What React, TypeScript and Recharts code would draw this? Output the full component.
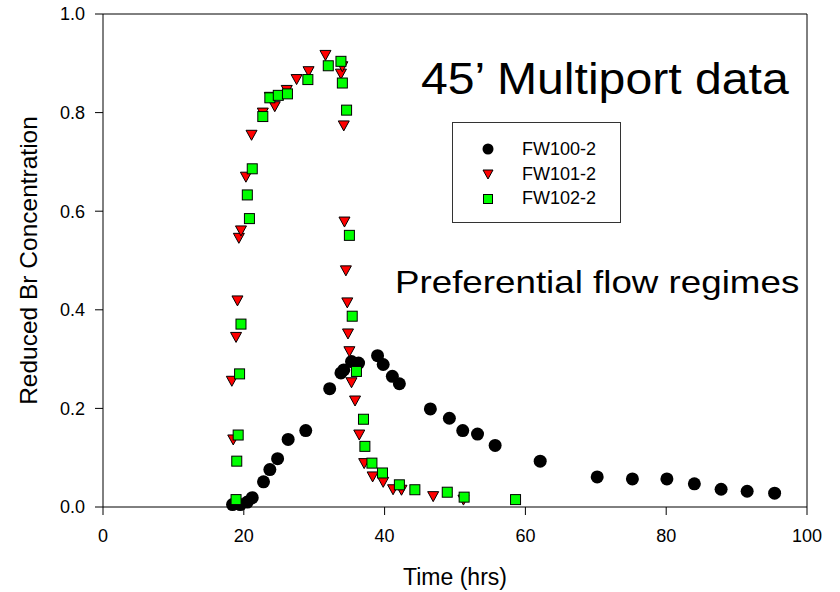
import { Label, ReferenceLine, Scatter, ScatterChart, XAxis, YAxis } from "recharts"

// sampling times (hrs) and reduced Br concentration for each well
const fw100Time = [18.4, 19.5, 20.5, 21.2, 22.8, 23.7, 24.8, 26.3, 28.8, 32.2, 33.8, 34.2, 35.3, 36.3, 39.0, 39.8, 41.1, 42.1, 46.5, 49.2, 51.1, 53.2, 55.7, 62.1, 70.2, 75.2, 80.1, 84.0, 87.8, 91.5, 95.4]
const fw100Conc = [0.005, 0.005, 0.01, 0.019, 0.051, 0.076, 0.098, 0.137, 0.155, 0.24, 0.272, 0.278, 0.295, 0.292, 0.307, 0.289, 0.265, 0.25, 0.199, 0.18, 0.155, 0.148, 0.125, 0.093, 0.061, 0.057, 0.057, 0.047, 0.036, 0.032, 0.028]

const fw101Time = [18.3, 18.5, 18.9, 19.1, 19.3, 19.6, 20.3, 21.1, 22.7, 23.7, 24.4, 26.1, 27.5, 29.2, 31.6, 33.8, 34.0, 34.2, 34.3, 34.5, 34.7, 34.8, 35.0, 35.3, 35.8, 36.4, 37.1, 38.3, 39.8, 41.2, 42.4, 46.9, 51.2]
const fw101Conc = [0.256, 0.137, 0.345, 0.419, 0.546, 0.561, 0.67, 0.755, 0.8, 0.832, 0.813, 0.846, 0.868, 0.884, 0.917, 0.879, 0.894, 0.774, 0.579, 0.48, 0.415, 0.352, 0.316, 0.253, 0.216, 0.147, 0.089, 0.062, 0.051, 0.036, 0.035, 0.022, 0.015]

const fw102Time = [18.9, 19.0, 19.2, 19.4, 19.6, 20.5, 20.8, 21.2, 22.7, 23.7, 24.9, 26.2, 29.1, 32.0, 33.8, 34.0, 34.6, 35.0, 35.4, 36.0, 37.0, 37.2, 38.2, 39.7, 42.1, 44.3, 48.9, 51.3, 58.6]
const fw102Conc = [0.015, 0.093, 0.146, 0.27, 0.371, 0.633, 0.585, 0.686, 0.792, 0.83, 0.835, 0.838, 0.867, 0.895, 0.904, 0.86, 0.805, 0.551, 0.387, 0.275, 0.178, 0.123, 0.089, 0.069, 0.045, 0.035, 0.03, 0.02, 0.015]

const xTicks = [0, 20, 40, 60, 80, 100]
const yTicks = [0, 0.2, 0.4, 0.6, 0.8, 1.0]
const seriesNames = ["FW100-2", "FW101-2", "FW102-2"]

const toPoints = (t: number[], c: number[]) => t.map((time, i) => ({ time, conc: c[i] }))

const font = "'Liberation Sans', Arial, sans-serif"

const Dot = (p: any) => <circle cx={p.cx} cy={p.cy} r={6.5} fill="#000" />
const Tri = (p: any) => (
  <polygon
    points={`${p.cx - 5.5},${p.cy - 4.5} ${p.cx + 5.5},${p.cy - 4.5} ${p.cx},${p.cy + 5.5}`}
    fill="#ff0000"
    stroke="#000"
    strokeWidth={1}
  />
)
const Sq = (p: any) => (
  <rect x={p.cx - 5} y={p.cy - 5} width={10} height={10} fill="#00ff00" stroke="#000" strokeWidth={1} />
)

// boxed key, placed inside the plot area
function LegendBox() {
  const icons = [
    <circle cx={6} cy={6} r={5.5} fill="#000" />,
    <polygon points="1,2 11,2 6,11" fill="#ff0000" stroke="#000" strokeWidth={1} />,
    <rect x={1.5} y={1.5} width={9} height={9} fill="#00ff00" stroke="#000" strokeWidth={1} />,
  ]
  return (
    <div
      style={{
        position: "absolute",
        left: 452,
        top: 122,
        width: 169,
        height: 101,
        boxSizing: "border-box",
        border: "1px solid #333",
        background: "#fff",
        paddingTop: 14,
        fontFamily: font,
        fontSize: 18,
      }}
    >
      {seriesNames.map((name, i) => (
        <div key={name} style={{ display: "flex", alignItems: "center", height: 24.7 }}>
          <svg width={12} height={12} style={{ marginLeft: 29, marginRight: 28 }}>
            {icons[i]}
          </svg>
          <span>{name}</span>
        </div>
      ))}
    </div>
  )
}

export default function App() {
  return (
    <div style={{ position: "absolute", left: 0, top: 0, width: 840, height: 592, background: "#fff" }}>
      <ScatterChart width={840} height={592} margin={{ top: 14, right: 33, bottom: 0, left: 0 }}>
        <XAxis
          type="number"
          dataKey="time"
          domain={[0, 100]}
          ticks={xTicks}
          tickSize={8}
          tickMargin={14}
          height={85}
          stroke="#000"
          tick={{ fill: "#000", fontSize: 18, fontFamily: font }}
        >
          <Label
            value="Time (hrs)"
            position="insideBottom"
            offset={7}
            style={{ fill: "#000", fontSize: 23, fontFamily: font }}
          />
        </XAxis>
        <YAxis
          type="number"
          dataKey="conc"
          domain={[0, 1]}
          ticks={yTicks}
          tickFormatter={(v: number) => v.toFixed(1)}
          tickSize={8}
          tickMargin={10}
          width={103}
          stroke="#000"
          tick={{ fill: "#000", fontSize: 18, fontFamily: font }}
        >
          <Label
            value="Reduced Br Concentration"
            angle={-90}
            position="insideLeft"
            offset={28}
            style={{ fill: "#000", fontSize: 24.5, fontFamily: font, textAnchor: "middle" }}
          />
        </YAxis>
        <ReferenceLine y={1} stroke="#000" />
        <ReferenceLine x={100} stroke="#000" />
        <Scatter name={seriesNames[0]} data={toPoints(fw100Time, fw100Conc)} shape={Dot} isAnimationActive={false} />
        <Scatter name={seriesNames[1]} data={toPoints(fw101Time, fw101Conc)} shape={Tri} isAnimationActive={false} />
        <Scatter name={seriesNames[2]} data={toPoints(fw102Time, fw102Conc)} shape={Sq} isAnimationActive={false} />
      </ScatterChart>
      <LegendBox />
      <div
        style={{
          position: "absolute",
          left: 421,
          top: 57,
          fontFamily: font,
          fontSize: 44,
          lineHeight: 1,
          whiteSpace: "nowrap",
          transform: "scaleX(1.095)",
          transformOrigin: "left top",
        }}
      >
        45’ Multiport data
      </div>
      <div
        style={{
          position: "absolute",
          left: 395,
          top: 266,
          fontFamily: font,
          fontSize: 32,
          lineHeight: 1,
          whiteSpace: "nowrap",
          transform: "scaleX(1.148)",
          transformOrigin: "left top",
        }}
      >
        Preferential flow regimes
      </div>
    </div>
  )
}
